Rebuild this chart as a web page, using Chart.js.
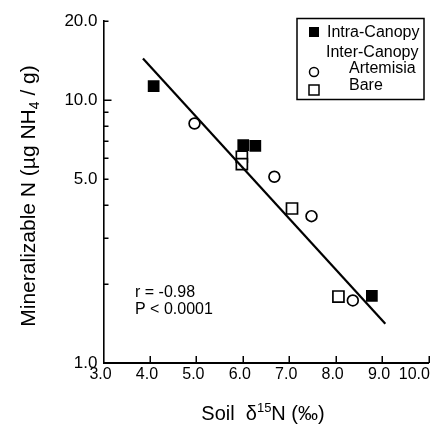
<!DOCTYPE html>
<html><head><meta charset="utf-8">
<script src="https://cdn.jsdelivr.net/npm/chart.js@4"></script>
<style>html,body{margin:0;padding:0;background:#fff;}canvas{display:block}</style>
</head><body>
<canvas id="c" width="438" height="426"></canvas>
<script>
// ---- data ----
const intraX = [4.08, 6.01, 6.27, 8.78];
const intraY = [11.3, 6.74, 6.70, 1.80];
const artemisiaX = [4.96, 6.68, 7.48, 8.37];
const artemisiaY = [8.15, 5.11, 3.62, 1.73];
const bareX = [5.98, 5.98, 7.06, 8.06];
const bareY = [6.09, 5.71, 3.87, 1.79];
const fitX = [3.85, 9.07];
const fitY = [14.4, 1.41];
const xTicks = [3, 4, 5, 6, 7, 8, 9, 10];
const yTicks = [1, 2, 3, 4, 5, 6, 7, 8, 9, 10, 20];
const yLabelled = [1, 5, 10, 20];
const legendLabels = ['Intra-Canopy', 'Inter-Canopy', 'Artemisia', 'Bare'];
const statLines = ['r = -0.98', 'P < 0.0001'];
const xTitle = ['Soil  \u03b4', '15', 'N (\u2030)'];
const yTitle = ['Mineralizable N (\u00b5g NH', '4', ' / g)'];

const FONT = '"Liberation Sans", Arial, Helvetica, sans-serif';
const pts = (xs, ys) => xs.map((x, i) => ({x, y: ys[i]}));

const deco = {
  id: 'deco',
  afterDraw(chart) {
    const {ctx, chartArea: a, scales: {x, y}} = chart;
    ctx.save();
    ctx.strokeStyle = '#000';
    ctx.fillStyle = '#000';
    ctx.lineWidth = 1.5;
    // inward tick marks
    yTicks.forEach(v => {
      if (v === 1) return;
      const py = Math.round(y.getPixelForValue(v)) + 0.25;
      const len = v === 10 ? 8 : 5;
      ctx.beginPath(); ctx.moveTo(a.left, py); ctx.lineTo(a.left + len, py); ctx.stroke();
    });
    xTicks.forEach(v => {
      if (v === 3) return;
      const px = Math.round(x.getPixelForValue(v)) + 0.25;
      ctx.beginPath(); ctx.moveTo(px, a.bottom); ctx.lineTo(px, a.bottom - 7); ctx.stroke();
    });
    // legend box
    ctx.lineWidth = 1.5;
    ctx.strokeRect(297, 18.5, 127, 81);
    ctx.font = '16px ' + FONT;
    ctx.textBaseline = 'middle';
    ctx.textAlign = 'left';
    ctx.fillRect(309, 27, 10, 10);
    ctx.fillText(legendLabels[0], 327, 33);
    ctx.fillText(legendLabels[1], 326, 53);
    ctx.beginPath(); ctx.arc(314, 72, 4.5, 0, Math.PI * 2); ctx.stroke();
    ctx.fillText(legendLabels[2], 349, 69);
    ctx.strokeRect(309, 85, 10, 10);
    ctx.fillText(legendLabels[3], 349, 86);
    // statistics text
    ctx.fillText(statLines[0], 135, 293);
    ctx.fillText(statLines[1], 135, 310);
    // x title with superscript
    const big = '20px ' + FONT, small = '13px ' + FONT;
    ctx.font = big; const w0 = ctx.measureText(xTitle[0]).width, w2 = ctx.measureText(xTitle[2]).width;
    ctx.font = small; const w1 = ctx.measureText(xTitle[1]).width;
    let sx = 263 - (w0 + w1 + w2) / 2, sy = 413;
    ctx.textBaseline = 'alphabetic';
    ctx.font = big; ctx.fillText(xTitle[0], sx, sy + 7); sx += w0;
    ctx.font = small; ctx.fillText(xTitle[1], sx, sy - 1); sx += w1;
    ctx.font = big; ctx.fillText(xTitle[2], sx, sy + 7);
    // y title with subscript, rotated
    ctx.translate(27, 196);
    ctx.rotate(-Math.PI / 2);
    const yb = '21px ' + FONT, ys = '14px ' + FONT;
    ctx.font = yb; const v0 = ctx.measureText(yTitle[0]).width, v2 = ctx.measureText(yTitle[2]).width;
    ctx.font = ys; const v1 = ctx.measureText(yTitle[1]).width;
    let tx = -(v0 + v1 + v2) / 2;
    ctx.font = yb; ctx.fillText(yTitle[0], tx, 7.5); tx += v0;
    ctx.font = ys; ctx.fillText(yTitle[1], tx, 11.5); tx += v1;
    ctx.font = yb; ctx.fillText(yTitle[2], tx, 7.5);
    ctx.restore();
  }
};

new Chart(document.getElementById('c'), {
  type: 'scatter',
  data: {
    datasets: [
      {label: 'fit', data: pts(fitX, fitY), showLine: true, pointRadius: 0, borderColor: '#000', borderWidth: 2.2, order: 0},
      {label: legendLabels[0], data: pts(intraX, intraY), pointStyle: 'rect', pointRadius: 8.3, backgroundColor: '#000', borderColor: '#000', borderWidth: 0, order: 1},
      {label: legendLabels[2], data: pts(artemisiaX, artemisiaY), pointStyle: 'circle', pointRadius: 5.4, backgroundColor: '#fff', borderColor: '#000', borderWidth: 1.7, order: 1},
      {label: legendLabels[3], data: pts(bareX, bareY), pointStyle: 'rect', pointRadius: 7.8, backgroundColor: '#fff', borderColor: '#000', borderWidth: 1.7, order: 1}
    ]
  },
  options: {
    responsive: false,
    animation: false,
    events: [],
    layout: {padding: {top: 21, right: 8, left: 0, bottom: 0}},
    plugins: {legend: {display: false}, tooltip: {enabled: false}},
    scales: {
      x: {
        type: 'linear', min: 3, max: 10,
        afterBuildTicks: s => { s.ticks = xTicks.map(v => ({value: v})); },
        afterFit: s => { s.height = 63; s.paddingLeft = 0; s.paddingRight = 0; },
        grid: {display: false, drawTicks: false},
        border: {display: true, color: '#000', width: 2},
        ticks: {
          autoSkip: false, maxRotation: 0, color: '#000', padding: 2, labelOffset: -3,
          font: {family: FONT, size: 16},
          callback: v => v === 10 ? v.toFixed(1) + '     ' : v.toFixed(1)
        }
      },
      y: {
        type: 'logarithmic', min: 1, max: 20,
        afterBuildTicks: s => { s.ticks = yTicks.map(v => ({value: v})); },
        afterFit: s => { s.width = 103.5; s.paddingTop = 0; s.paddingBottom = 0; },
        grid: {display: false, drawTicks: false},
        border: {display: true, color: '#000', width: 1.6},
        ticks: {
          autoSkip: false, color: '#000', padding: 6,
          font: {family: FONT, size: 17},
          callback: v => yLabelled.includes(v) ? v.toFixed(1) : ''
        }
      }
    }
  },
  plugins: [deco]
});
</script>
</body></html>
